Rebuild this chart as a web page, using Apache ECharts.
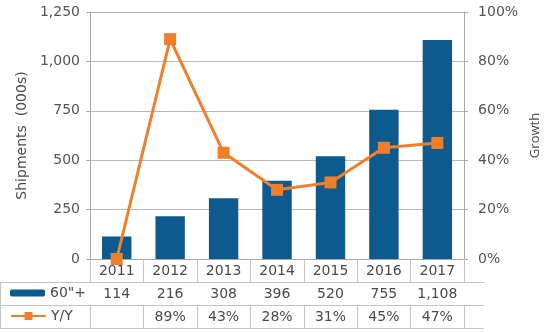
<!DOCTYPE html>
<html><head><meta charset="utf-8">
<script src="https://cdn.jsdelivr.net/npm/echarts@6/dist/echarts.min.js"></script>
<style>html,body{margin:0;padding:0;background:#fff}#c{width:550px;height:332px}</style>
</head><body><div id="c"></div>
<script>
var years = ['2011','2012','2013','2014','2015','2016','2017'];
var shipments = [114, 216, 308, 396, 520, 755, 1108];
var growth = [0, 89, 43, 28, 31, 45, 47];
var growthLabels = ['', '89%', '43%', '28%', '31%', '45%', '47%'];
var leftTicks = [0, 250, 500, 750, 1000, 1250];
var rightTicks = [0, 20, 40, 60, 80, 100];

var FONT = 'DejaVu Sans';
var BLUE = '#0d5a8f', ORANGE = '#ef7f2a', GRID = '#b8b8b8', AXIS = '#a8a8a8', TBL = '#c4c4c4', TXT = '#4a4a4a';
function commas(v){ return String(v).replace(/\B(?=(\d{3})+(?!\d))/g, ','); }

var chart = echarts.init(document.getElementById('c'));
var rowH = 23;
function tableAxis(idx, fmt){
  return {
    type: 'category', data: years, gridIndex: 0, position: 'bottom', offset: rowH * idx,
    axisLine: { show: false },
    axisTick: { show: true, length: rowH, interval: 0, lineStyle: { color: TBL } },
    axisLabel: { interval: 0, margin: 5, color: TXT, fontFamily: FONT, fontSize: 14, formatter: fmt }
  };
}
chart.setOption({
  animation: false,
  grid: { left: 90, right: 66, top: 12, bottom: 73 },
  legend: [
    { data: ['60"+'], left: 10, top: 286, padding: 0, itemWidth: 35, itemHeight: 7, itemGap: 5,
      textStyle: { color: TXT, fontFamily: FONT, fontSize: 14 } },
    { data: ['Y/Y'], left: 10, top: 309, padding: 0, itemWidth: 35, itemHeight: 10, itemGap: 5,
      textStyle: { color: TXT, fontFamily: FONT, fontSize: 14 } }
  ],
  xAxis: [
    { type: 'category', data: years, position: 'bottom',
      axisLine: { show: true, lineStyle: { color: AXIS } },
      axisTick: { show: true, length: rowH, interval: 0, lineStyle: { color: TBL } },
      axisLabel: { interval: 0, margin: 5, color: TXT, fontFamily: FONT, fontSize: 14 } },
    tableAxis(1, function(v, i){ return commas(shipments[i]); }),
    tableAxis(2, function(v, i){ return growthLabels[i]; })
  ],
  yAxis: [
    { type: 'value', min: leftTicks[0], max: leftTicks[leftTicks.length-1], interval: 250,
      name: 'Shipments  (000s)', nameLocation: 'middle', nameRotate: 90, nameGap: 56,
      nameTextStyle: { color: TXT, fontFamily: FONT, fontSize: 14 },
      axisLine: { show: true, lineStyle: { color: AXIS } },
      axisTick: { show: true, length: 4, lineStyle: { color: AXIS } },
      splitLine: { show: true, lineStyle: { color: GRID } },
      axisLabel: { margin: 10, color: '#555', fontFamily: FONT, fontSize: 14, formatter: function(v){ return commas(v); } } },
    { type: 'value', min: rightTicks[0], max: rightTicks[rightTicks.length-1], interval: 20,
      name: 'Growth', nameLocation: 'middle', nameRotate: 90, nameGap: 58,
      nameTextStyle: { color: '#4a4a4a', fontFamily: 'Open Sans', fontSize: 13 },
      axisLine: { show: true, lineStyle: { color: AXIS } },
      axisTick: { show: true, length: 4, lineStyle: { color: AXIS } },
      splitLine: { show: false },
      axisLabel: { margin: 14, color: '#555', fontFamily: FONT, fontSize: 14, formatter: '{value}%' } }
  ],
  series: [
    { name: '60"+', type: 'bar', xAxisIndex: 0, yAxisIndex: 0, data: shipments, barWidth: '55%',
      itemStyle: { color: BLUE } },
    { name: 'Y/Y', type: 'line', xAxisIndex: 0, yAxisIndex: 1, data: growth, z: 5,
      symbol: 'rect', symbolSize: 12, showAllSymbol: true,
      lineStyle: { color: ORANGE, width: 3 }, itemStyle: { color: ORANGE } }
  ],
  graphic: [
    { type: 'line', shape: { x1: 0, y1: 282.5, x2: 484, y2: 282.5 }, style: { stroke: TBL, lineWidth: 1 } },
    { type: 'line', shape: { x1: 0, y1: 305.5, x2: 484, y2: 305.5 }, style: { stroke: TBL, lineWidth: 1 } },
    { type: 'line', shape: { x1: 0, y1: 328.5, x2: 484, y2: 328.5 }, style: { stroke: TBL, lineWidth: 1 } },
    { type: 'line', shape: { x1: 0.5, y1: 282, x2: 0.5, y2: 329 }, style: { stroke: TBL, lineWidth: 1 } }
  ]
});
</script></body></html>
